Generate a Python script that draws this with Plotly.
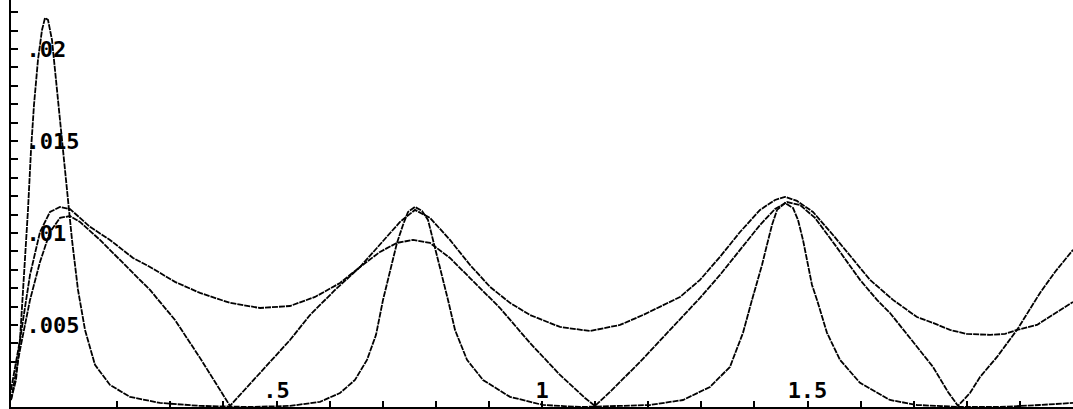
import plotly.graph_objects as go

# --- data ---
peaked_x = [0.000, 0.0094, 0.0169, 0.0245, 0.0320, 0.0377, 0.0433, 0.0508, 0.0584, 0.0640,
            0.0697, 0.0772, 0.0847, 0.0923, 0.0998, 0.1073, 0.1149, 0.1262, 0.1394, 0.1582,
            0.1864, 0.2241, 0.2806, 0.3559, 0.4501, 0.5254, 0.5819, 0.6196, 0.6478, 0.6704,
            0.6874, 0.7006, 0.7137, 0.7269, 0.7382, 0.7476, 0.7608, 0.7740, 0.7853, 0.7947,
            0.8079, 0.8230, 0.8362, 0.8588, 0.8889, 0.9397, 1.0019, 1.0716, 1.1469, 1.2034,
            1.2655, 1.3164, 1.3540, 1.3785, 1.3955, 1.4068, 1.4143, 1.4237, 1.4331, 1.4426,
            1.4576, 1.4727, 1.4821, 1.4915, 1.5009, 1.5085, 1.5179, 1.5367, 1.5612, 1.5989,
            1.6554, 1.7062, 1.7872, 1.8625, 1.9379, 2.0000]
peaked_y = [0.00092, 0.00201, 0.00418, 0.00745, 0.01125, 0.01451, 0.01696, 0.01940, 0.02103, 0.02168,
            0.02158, 0.02049, 0.01832, 0.01614, 0.01370, 0.01179, 0.00962, 0.00690, 0.00473, 0.00283,
            0.00174, 0.00109, 0.00076, 0.00060, 0.00054, 0.00060, 0.00082, 0.00130, 0.00201, 0.00310,
            0.00446, 0.00636, 0.00799, 0.00946, 0.01043, 0.01114, 0.01141, 0.01120, 0.01071, 0.00962,
            0.00826, 0.00636, 0.00473, 0.00310, 0.00201, 0.00109, 0.00065, 0.00054, 0.00060, 0.00065,
            0.00092, 0.00163, 0.00272, 0.00457, 0.00636, 0.00745, 0.00826, 0.00935, 0.01043, 0.01125,
            0.01163, 0.01136, 0.01071, 0.00962, 0.00826, 0.00717, 0.00636, 0.00457, 0.00310, 0.00185,
            0.00092, 0.00065, 0.00054, 0.00054, 0.00065, 0.00076]

smooth_x = [0.000, 0.0169, 0.0358, 0.0546, 0.0734, 0.0923, 0.1111, 0.1488, 0.1864, 0.2298,
            0.2618, 0.3089, 0.3559, 0.4124, 0.4689, 0.5254, 0.5725, 0.6196, 0.6573, 0.6949,
            0.7326, 0.7608, 0.7891, 0.8267, 0.8644, 0.9021, 0.9397, 0.9774, 1.0339, 1.0904,
            1.1469, 1.1902, 1.2222, 1.2599, 1.2976, 1.3352, 1.3729, 1.4105, 1.4388, 1.4576,
            1.4802, 1.5104, 1.5480, 1.5800, 1.6177, 1.6610, 1.7062, 1.7363, 1.7684, 1.8004,
            1.8437, 1.8719, 1.8945, 1.9322, 1.9623, 1.9812, 2.0000]
smooth_y = [0.00147, 0.00418, 0.00772, 0.01005, 0.01114, 0.01141, 0.01130, 0.01033, 0.00962, 0.00864,
            0.00815, 0.00734, 0.00674, 0.00620, 0.00592, 0.00603, 0.00652, 0.00728, 0.00815, 0.00935,
            0.01060, 0.01125, 0.01082, 0.00962, 0.00826, 0.00707, 0.00620, 0.00554, 0.00489, 0.00467,
            0.00500, 0.00554, 0.00598, 0.00652, 0.00745, 0.00870, 0.01005, 0.01125, 0.01179, 0.01196,
            0.01174, 0.01114, 0.00989, 0.00875, 0.00745, 0.00636, 0.00543, 0.00511, 0.00473, 0.00451,
            0.00446, 0.00451, 0.00473, 0.00500, 0.00554, 0.00592, 0.00625]

rect_x = [0.000, 0.0169, 0.0358, 0.0546, 0.0734, 0.0923, 0.1111, 0.1299, 0.1676, 0.2185,
          0.2618, 0.3089, 0.3559, 0.3936, 0.4124, 0.4313, 0.4689, 0.5254, 0.5631, 0.6102,
          0.6573, 0.6949, 0.7269, 0.7571, 0.7891, 0.8267, 0.8644, 0.9209, 0.9774, 1.0339,
          1.0810, 1.0998, 1.1281, 1.1846, 1.2411, 1.2976, 1.3352, 1.3729, 1.4105, 1.4388,
          1.4614, 1.4859, 1.5141, 1.5518, 1.5989, 1.6309, 1.6554, 1.6930, 1.7363, 1.7646,
          1.7834, 1.8060, 1.8249, 1.8569, 1.8945, 1.9379, 1.9661, 2.0000]
rect_y = [0.00092, 0.00364, 0.00636, 0.00842, 0.01005, 0.01082, 0.01092, 0.01060, 0.00962, 0.00815,
          0.00690, 0.00527, 0.00321, 0.00147, 0.00060, 0.00120, 0.00239, 0.00418, 0.00554, 0.00690,
          0.00815, 0.00897, 0.00946, 0.00962, 0.00946, 0.00864, 0.00755, 0.00592, 0.00402, 0.00228,
          0.00103, 0.00060, 0.00136, 0.00299, 0.00473, 0.00647, 0.00772, 0.00908, 0.01043, 0.01130,
          0.01168, 0.01152, 0.01082, 0.00935, 0.00745, 0.00636, 0.00565, 0.00429, 0.00272, 0.00136,
          0.00060, 0.00130, 0.00217, 0.00326, 0.00473, 0.00674, 0.00788, 0.00908]

x_ticks = [round(0.1 * i, 1) for i in range(1, 21)]
x_labels = {0.5: ".5", 1.0: "1", 1.5: "1.5", 2.0: "2"}
y_ticks = [round(0.001 * i, 3) for i in range(1, 23)]
y_labels = {0.005: ".005", 0.01: ".01", 0.015: ".015", 0.02: ".02"}

fig = go.Figure()
line_style = dict(color="black", width=1.8, dash="6px,1px")
for xs, ys in [(peaked_x, peaked_y), (smooth_x, smooth_y), (rect_x, rect_y)]:
    fig.add_trace(go.Scatter(x=xs, y=ys, mode="lines", line=line_style,
                             showlegend=False, hoverinfo="skip"))

tick_font = dict(family="DejaVu Sans Mono", size=22, color="black", weight="bold")
fig.update_layout(
    width=1073, height=409,
    margin=dict(l=11, r=0, t=0, b=2),
    paper_bgcolor="white", plot_bgcolor="white",
    font=tick_font,
    showlegend=False,
)
fig.update_xaxes(
    range=[0, 2.0], showgrid=False, zeroline=False,
    showline=True, linecolor="black", linewidth=2,
    ticks="inside", ticklen=6, tickwidth=2, tickcolor="black",
    tickvals=x_ticks, ticktext=[x_labels.get(v, "") for v in x_ticks],
    ticklabelposition="inside", tickfont=tick_font,
)
fig.update_yaxes(
    range=[0.00054, 0.02266], showgrid=False, zeroline=False,
    showline=True, linecolor="black", linewidth=2,
    ticks="inside", ticklen=7, tickwidth=2, tickcolor="black",
    tickvals=y_ticks, ticktext=[y_labels.get(v, "") for v in y_ticks],
    ticklabelposition="inside", ticklabelstandoff=10, tickfont=tick_font,
)

fig.write_html("out.html", config={"displayModeBar": False},
               post_script="document.body.style.margin='0';")
